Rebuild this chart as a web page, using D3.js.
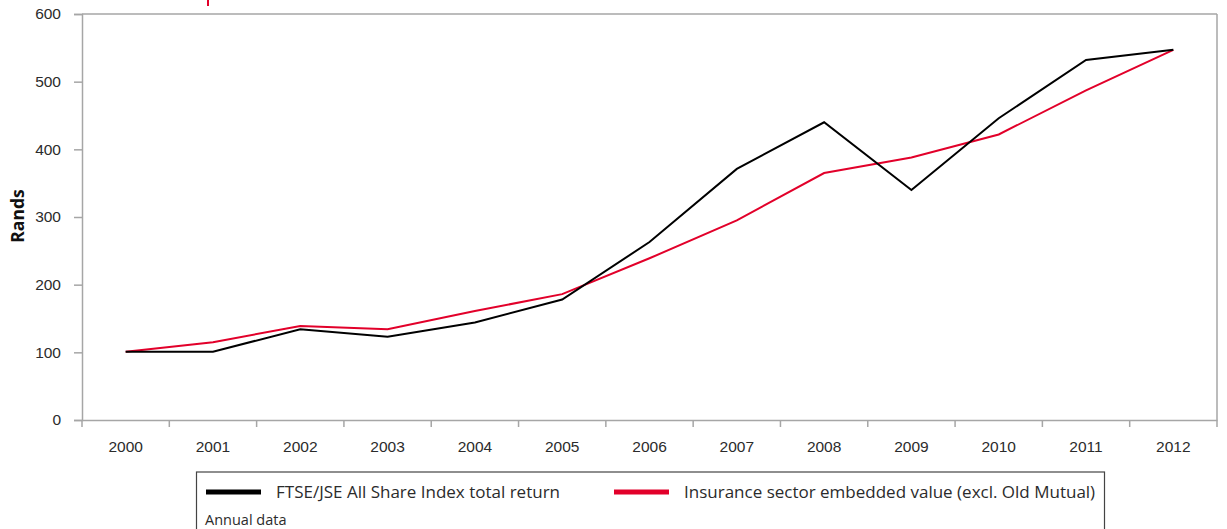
<!DOCTYPE html>
<html>
<head>
<meta charset="utf-8">
<script src="https://cdn.jsdelivr.net/npm/d3@7"></script>
<style>
  body { margin: 0; background: #fff; }
  svg { display: block; font-family: "Open Sans", "Noto Sans", sans-serif; }
</style>
</head>
<body>
<svg id="mainSvg"></svg>
<script>
const years = ['2000', '2001', '2002', '2003', '2004', '2005', '2006', '2007', '2008', '2009', '2010', '2011', '2012'];
const ftseValues = [101, 101, 134, 123, 144, 178, 263, 371, 440, 340, 446, 532, 547];
const insuranceValues = [101, 115, 139, 134, 161, 186, 239, 295, 365, 388, 422, 487, 547];
const yTicks = [0, 100, 200, 300, 400, 500, 600];
const seriesNames = ['FTSE/JSE All Share Index total return', 'Insurance sector embedded value (excl. Old Mutual)'];

const width = 1227;
const height = 529;
const axisColor = '#a6a6a6';
const textColor = '#2b2b2b';
const red = '#e2002a';

const svg = d3.select('#mainSvg')
  .attr('width', width)
  .attr('height', height);

const xScale = d3.scaleBand()
  .domain(years)
  .range([82, 1217]);

const yScale = d3.scaleLinear()
  .domain([0, 600])
  .range([420, 14]);

// small red mark at the top edge
svg.append('line')
  .attr('x1', 208).attr('x2', 208)
  .attr('y1', 0).attr('y2', 6)
  .attr('stroke', red)
  .attr('stroke-width', 2);

// y axis
const yAxis = svg.append('g')
  .attr('transform', `translate(${xScale.range()[0]},0)`)
  .call(d3.axisLeft(yScale).tickValues(yTicks).tickSize(8).tickPadding(13));
yAxis.select('.domain').attr('stroke', axisColor).attr('stroke-width', 1.5);
yAxis.selectAll('.tick line').attr('stroke', axisColor).attr('stroke-width', 1.5);
yAxis.selectAll('.tick text')
  .attr('fill', textColor)
  .style('font-size', '15.5px');

// top and right frame
svg.append('line')
  .attr('x1', xScale.range()[0]).attr('x2', xScale.range()[1])
  .attr('y1', yScale(600)).attr('y2', yScale(600))
  .attr('stroke', axisColor).attr('stroke-width', 1.5);
svg.append('line')
  .attr('x1', xScale.range()[1]).attr('x2', xScale.range()[1])
  .attr('y1', yScale(600)).attr('y2', yScale(0))
  .attr('stroke', axisColor).attr('stroke-width', 1.5);

// x axis: labels centred in bands, ticks on band edges
const xAxis = svg.append('g')
  .attr('transform', `translate(0,${yScale(0)})`)
  .call(d3.axisBottom(xScale).tickSize(0).tickPadding(21));
xAxis.select('.domain').attr('stroke', axisColor).attr('stroke-width', 1.5);
xAxis.selectAll('.tick text')
  .attr('fill', textColor)
  .style('font-size', '15.5px');

const edges = years.map(d => xScale(d)).concat([xScale.range()[1]]);
xAxis.selectAll('.edge')
  .data(edges)
  .enter()
  .append('line')
  .classed('edge', true)
  .attr('x1', d => d).attr('x2', d => d)
  .attr('y1', 0).attr('y2', 7)
  .attr('stroke', axisColor)
  .attr('stroke-width', 1.5);

// y axis title
svg.append('text')
  .attr('transform', 'rotate(-90)')
  .attr('x', -216)
  .attr('y', 24)
  .style('text-anchor', 'middle')
  .style('font-weight', 'bold')
  .style('font-size', '17.5px')
  .attr('fill', '#111')
  .text('Rands');

// lines
const line = d3.line()
  .x((d, i) => xScale(years[i]) + xScale.bandwidth() / 2)
  .y(d => yScale(d));

svg.append('path')
  .datum(insuranceValues)
  .attr('d', line)
  .attr('fill', 'none')
  .attr('stroke', red)
  .attr('stroke-width', 2);

svg.append('path')
  .datum(ftseValues)
  .attr('d', line)
  .attr('fill', 'none')
  .attr('stroke', '#000')
  .attr('stroke-width', 2);

// legend box
const legend = svg.append('g');
legend.append('rect')
  .attr('x', 196.5).attr('y', 472)
  .attr('width', 908).attr('height', 70)
  .attr('fill', 'none')
  .attr('stroke', '#444')
  .attr('stroke-width', 1.2);

const legendItems = [
  { name: seriesNames[0], color: '#000', x: 206 },
  { name: seriesNames[1], color: red, x: 614 }
];
legendItems.forEach(item => {
  legend.append('line')
    .attr('x1', item.x).attr('x2', item.x + 55)
    .attr('y1', 492).attr('y2', 492)
    .attr('stroke', item.color)
    .attr('stroke-width', 5);
  legend.append('text')
    .attr('x', item.x + 70)
    .attr('y', 498)
    .style('font-size', '17px')
    .attr('fill', textColor)
    .text(item.name);
});

legend.append('text')
  .attr('x', 205)
  .attr('y', 525)
  .style('font-size', '14.5px')
  .attr('fill', textColor)
  .text('Annual data');
</script>
</body>
</html>
